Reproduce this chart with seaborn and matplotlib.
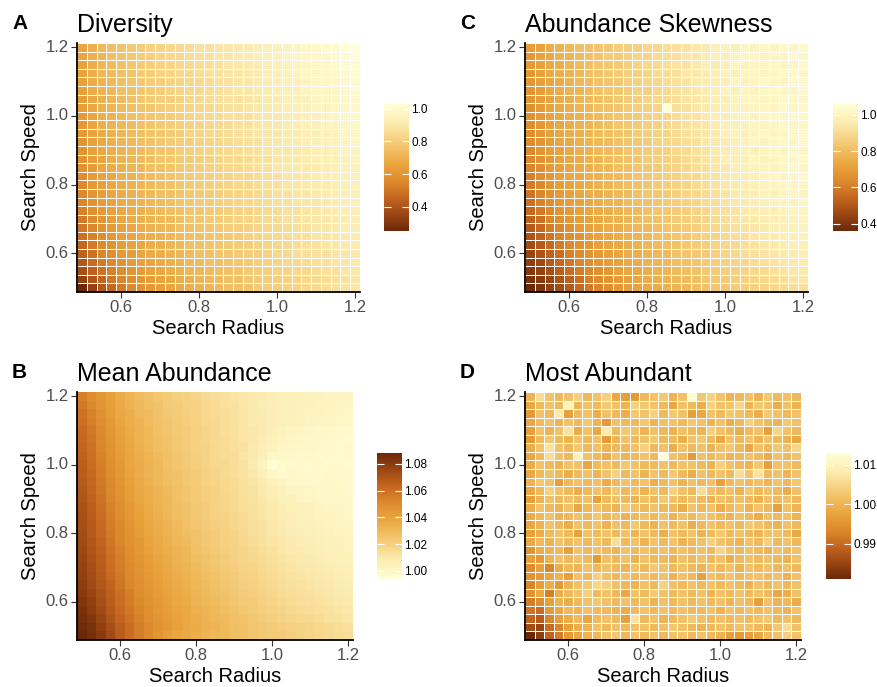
import numpy as np
import pandas as pd
import matplotlib
matplotlib.use("Agg")
import matplotlib.pyplot as plt
import seaborn as sns
from matplotlib.colors import LinearSegmentedColormap

# grid values (search radius on x, search speed on y, top row = 1.2)
radius = [0.5, 0.525, 0.55, 0.575, 0.6, 0.625, 0.65, 0.675, 0.7, 0.725, 0.75, 0.775, 0.8, 0.825, 0.85,
          0.875, 0.9, 0.925, 0.95, 0.975, 1.0, 1.025, 1.05, 1.075, 1.1, 1.125, 1.15, 1.175, 1.2]
speed = [1.2, 1.175, 1.15, 1.125, 1.1, 1.075, 1.05, 1.025, 1.0, 0.975, 0.95, 0.925, 0.9, 0.875, 0.85,
         0.825, 0.8, 0.775, 0.75, 0.725, 0.7, 0.675, 0.65, 0.625, 0.6, 0.575, 0.55, 0.525, 0.5]

# Diversity, in hundredths
diversity_rows = [
    "66 70 73 75 77 79 80 82 83 84 85 86 87 88 89 90 91 92 93 94 95 96 97 98 99 100 101 102 103",
    "66 70 72 75 77 78 80 81 83 84 85 86 87 88 89 90 91 92 93 94 95 96 97 98 98 99 100 101 102",
    "65 69 72 74 76 78 79 81 82 83 84 85 86 87 88 89 90 91 92 93 94 95 96 97 98 99 100 101 101",
    "65 69 72 74 76 77 79 80 82 83 84 85 86 87 88 89 90 91 92 93 94 95 96 97 97 98 99 100 101",
    "64 68 71 73 75 77 78 80 81 82 83 84 85 86 87 88 89 90 91 92 93 94 95 96 97 98 99 100 100",
    "64 68 71 73 75 76 78 79 81 82 83 84 85 86 87 88 89 90 91 92 93 94 95 96 97 97 98 99 100",
    "63 67 70 72 74 76 77 79 80 81 82 84 85 86 87 88 88 89 90 91 92 93 94 95 96 97 98 99 99",
    "63 67 70 72 74 75 77 78 80 81 82 83 84 85 86 87 88 89 90 91 92 93 94 95 96 96 97 98 99",
    "62 66 69 71 73 75 76 78 79 80 81 83 84 85 86 87 87 88 89 90 91 92 93 94 95 96 97 98 98",
    "61 66 69 71 73 74 76 77 79 80 81 82 83 84 85 86 87 88 89 90 91 92 93 94 95 96 96 97 98",
    "61 65 68 70 72 74 75 77 78 79 80 82 83 84 85 86 87 88 89 89 90 91 92 93 94 95 96 97 97",
    "60 64 67 70 72 73 75 76 78 79 80 81 82 83 84 85 86 87 88 89 90 91 92 93 94 95 95 96 97",
    "59 64 67 69 71 73 74 76 77 78 80 81 82 83 84 85 86 87 88 89 90 90 91 92 93 94 95 96 96",
    "59 63 66 69 71 72 74 75 77 78 79 80 81 82 83 84 85 86 87 88 89 90 91 92 93 94 94 95 96",
    "58 62 66 68 70 72 73 75 76 77 79 80 81 82 83 84 85 86 87 88 89 90 91 91 92 93 94 95 95",
    "57 62 65 67 70 71 73 74 76 77 78 79 80 81 82 83 84 85 86 87 88 89 90 91 92 93 93 94 95",
    "56 61 64 67 69 71 72 74 75 76 78 79 80 81 82 83 84 85 86 87 88 89 90 91 91 92 93 94 95",
    "55 60 63 66 68 70 72 73 75 76 77 78 79 80 81 82 83 84 85 86 87 88 89 90 91 92 93 93 94",
    "54 59 62 65 68 69 71 73 74 75 77 78 79 80 81 82 83 84 85 86 87 88 89 90 90 91 92 93 94",
    "53 58 61 64 67 69 70 72 74 75 76 77 78 79 80 81 82 83 84 85 86 87 88 89 90 91 92 93 93",
    "51 56 60 63 66 68 70 71 73 74 75 77 78 79 80 81 82 83 84 85 86 87 88 89 90 90 91 92 93",
    "50 55 59 62 65 67 69 71 72 73 75 76 77 78 79 80 81 82 83 84 85 86 87 88 89 90 91 92 92",
    "48 53 57 61 64 66 68 70 71 73 74 75 76 77 78 79 80 82 83 84 85 86 87 88 89 89 90 91 92",
    "46 51 56 59 62 65 67 69 70 72 73 75 76 77 78 79 80 81 82 83 84 85 86 87 88 89 90 91 92",
    "44 49 54 57 61 63 66 68 69 71 72 74 75 76 77 78 79 80 81 82 84 85 86 87 88 88 89 90 91",
    "41 47 51 55 59 62 64 66 68 70 71 73 74 75 76 77 78 79 81 82 83 84 85 86 87 88 89 90 91",
    "38 44 49 53 57 60 62 65 67 69 70 72 73 74 75 76 77 79 80 81 82 83 84 85 86 87 88 89 90",
    "33 40 45 50 54 57 60 63 65 67 69 70 72 73 74 75 76 78 79 80 81 82 83 84 85 86 87 88 89",
    "25 34 41 46 51 55 58 61 64 66 68 69 71 72 74 75 76 77 79 80 81 82 83 84 85 86 87 88 89",
]

# Abundance Skewness, in hundredths
skewness_rows = [
    "70 72 75 77 79 81 82 83 84 86 86 87 89 89 91 92 93 95 95 97 99 98 100 99 101 100 102 101 102",
    "69 72 74 77 78 80 82 83 85 85 87 88 88 90 91 92 94 94 96 98 97 99 100 101 99 101 101 103 101",
    "69 71 74 76 78 80 81 83 84 85 86 88 89 90 92 93 93 95 97 96 98 100 99 100 101 102 100 101 103",
    "68 71 74 76 77 79 81 82 84 85 86 87 88 90 91 92 94 94 96 98 99 98 100 101 100 101 102 102 101",
    "68 71 73 75 77 79 80 82 83 84 86 87 88 89 91 92 93 95 96 97 98 100 99 100 102 101 100 103 102",
    "67 70 73 75 77 78 80 82 83 84 85 87 87 89 90 92 93 94 96 97 99 98 100 99 101 102 101 101 103",
    "67 70 72 75 76 78 80 81 82 84 85 86 88 89 90 91 93 94 95 97 97 99 100 101 100 101 103 102 101",
    "66 69 72 74 76 78 79 81 82 83 85 86 87 88 106 91 92 94 95 96 98 99 99 100 101 100 102 101 102",
    "66 69 72 74 76 77 79 80 82 83 84 85 87 88 89 91 93 93 95 97 97 99 100 99 101 102 101 103 102",
    "65 68 71 73 75 77 78 80 81 83 84 85 86 87 89 90 92 93 94 96 98 98 99 101 100 101 102 101 101",
    "65 68 71 73 75 76 78 80 81 82 83 85 86 87 88 90 91 93 94 95 97 99 98 100 101 100 101 102 103",
    "64 67 70 73 74 76 78 79 80 82 83 84 85 87 88 89 91 92 94 95 96 97 99 100 99 101 102 101 102",
    "63 67 70 72 74 76 77 79 80 81 83 84 85 86 87 89 90 92 93 95 96 98 99 98 100 101 100 102 101",
    "63 66 69 72 74 75 77 78 80 81 82 83 85 86 87 88 90 91 93 94 97 97 98 100 99 100 102 101 102",
    "62 65 69 71 73 75 76 78 79 81 82 83 84 85 87 88 89 91 92 94 95 97 98 99 100 99 101 102 101",
    "61 65 68 71 73 74 76 77 79 80 81 83 84 85 86 87 89 90 92 93 95 96 97 98 100 101 100 101 102",
    "60 63 67 70 72 74 75 77 78 80 81 82 83 85 86 87 88 90 91 93 94 95 97 98 99 100 101 100 101",
    "58 62 66 69 71 73 75 76 78 79 80 82 83 84 85 86 88 89 90 92 93 95 96 97 99 98 100 101 100",
    "57 61 65 68 70 72 74 76 77 78 80 81 82 83 85 86 87 88 90 91 93 94 95 97 98 99 100 99 101",
    "55 59 63 67 69 71 73 75 76 78 79 80 82 83 84 85 86 88 89 91 92 93 95 96 97 98 99 100 100",
    "53 57 62 65 68 70 72 74 76 77 78 80 81 82 83 85 86 87 88 90 91 93 94 95 96 97 98 99 100",
    "51 55 60 63 66 69 71 73 75 76 78 79 80 81 83 84 85 86 88 89 90 92 93 94 95 97 98 98 99",
    "49 53 58 62 65 67 70 72 74 75 77 78 79 81 82 83 84 86 87 88 90 91 92 94 95 96 97 98 99",
    "47 51 55 60 63 66 68 71 73 74 76 77 79 80 81 82 84 85 86 88 89 90 92 93 94 95 96 97 98",
    "45 49 53 57 61 64 67 69 71 73 75 76 78 79 80 82 83 84 85 87 88 89 91 92 93 94 95 96 97",
    "43 46 51 55 59 62 65 68 70 72 74 75 77 78 79 81 82 83 85 86 87 88 89 91 92 93 94 95 96",
    "41 44 48 52 56 60 63 66 68 71 73 74 76 77 78 80 81 82 84 85 86 87 88 89 90 92 93 94 95",
    "39 42 45 49 53 57 61 64 67 69 71 73 75 76 77 79 80 81 83 84 85 86 87 88 89 90 91 93 94",
    "36 40 44 47 51 55 59 62 65 68 70 72 74 75 77 78 79 81 82 83 84 85 86 87 88 89 90 91 92",
]

# Mean Abundance, thousandths above 1
mean_abund_rows = [
    "55 50 45 41 36 32 29 27 25 23 21 20 18 16 14 13 11 10 9 8 6 5 5 4 3 3 2 2 2",
    "57 52 46 42 37 33 30 28 26 23 22 20 19 17 15 13 12 10 9 7 6 5 4 3 3 2 2 1 1",
    "59 54 48 43 38 35 31 29 26 24 22 21 19 17 15 14 12 11 9 8 6 5 4 3 2 2 1 1 0",
    "60 55 49 44 39 35 32 29 27 25 23 21 19 17 16 14 12 11 9 8 6 5 4 3 2 1 1 0 0",
    "62 57 51 45 40 36 33 30 27 25 23 22 20 18 16 14 13 11 10 8 5 3 2 1 0 -1 -1 -2 -2",
    "63 58 52 46 41 37 33 30 28 26 24 22 20 18 16 15 13 11 10 7 4 2 1 0 -1 -1 -2 -2 -3",
    "64 59 53 47 42 38 34 31 28 26 24 22 20 19 17 15 13 12 9 6 3 1 0 -1 -1 -2 -2 -3 -2",
    "65 60 54 48 43 39 35 32 29 27 25 23 21 19 17 15 14 11 9 5 0 -1 -1 -2 -2 -3 -2 -3 -2",
    "66 61 55 49 44 39 36 33 30 27 25 23 21 19 17 16 14 12 8 3 -6 -3 -2 -2 -3 -2 -3 -2 -3",
    "67 62 56 50 45 40 36 33 30 28 26 24 22 20 18 16 14 12 10 5 0 -3 -1 -2 -2 -3 -2 -2 -2",
    "68 63 57 51 46 41 37 34 31 28 26 24 22 20 18 17 15 13 11 8 4 2 0 -1 -2 -2 -1 -2 -2",
    "69 64 58 52 47 42 38 35 32 29 27 25 23 21 19 17 15 13 12 9 6 4 2 1 0 -1 -1 -1 -2",
    "70 65 59 53 48 43 39 35 32 30 27 25 23 21 19 18 16 14 12 10 7 5 4 2 1 0 0 -1 -1",
    "71 66 60 54 49 44 40 36 33 30 28 26 24 22 20 18 16 14 13 11 9 7 5 4 3 2 1 1 0",
    "72 67 61 55 50 45 41 37 34 31 28 26 24 22 20 19 17 15 13 11 9 7 6 4 3 2 2 1 0",
    "72 68 62 56 51 46 42 38 35 32 29 27 25 23 21 19 17 15 14 12 10 8 6 5 4 3 2 1 1",
    "73 68 63 57 52 47 43 39 36 33 30 28 26 24 22 20 18 16 14 12 10 9 7 6 5 4 3 2 1",
    "74 69 64 58 53 48 44 40 37 34 31 29 26 24 22 20 19 17 15 13 11 10 8 7 6 5 4 3 2",
    "75 70 65 59 54 49 45 41 38 35 32 30 27 25 23 21 19 18 16 14 12 10 9 8 7 6 5 4 3",
    "76 71 66 60 55 50 46 42 39 36 33 31 28 26 24 22 20 18 17 15 13 11 10 9 8 7 6 5 4",
    "77 72 67 61 56 51 47 43 40 37 34 32 29 27 25 23 21 19 18 16 14 12 11 10 9 8 7 6 5",
    "78 73 68 62 57 52 48 44 41 38 35 33 30 28 26 24 22 20 19 17 15 13 12 11 10 9 8 7 6",
    "79 74 69 64 58 53 49 45 42 39 36 34 31 29 27 25 23 21 20 18 16 14 13 12 11 10 9 8 7",
    "80 76 71 65 60 55 50 46 43 40 37 35 32 30 28 26 24 22 21 19 17 15 14 13 12 11 10 9 8",
    "82 78 72 66 61 56 51 47 44 41 38 36 33 31 29 27 25 23 22 20 18 17 15 14 13 12 11 10 9",
    "84 79 74 68 62 57 53 49 45 42 39 37 34 32 30 28 26 24 23 21 19 18 16 15 14 13 12 11 10",
    "85 82 76 70 64 59 54 50 46 43 40 38 35 33 31 29 27 26 24 22 21 19 18 17 16 15 13 12 11",
    "87 84 78 72 66 61 56 51 47 44 41 38 36 34 32 30 28 27 25 24 22 21 20 19 18 17 15 14 13",
    "88 85 80 74 67 61 56 51 46 42 39 37 35 33 31 30 28 27 25 24 23 22 21 19 18 17 16 15 14",
]

# Most Abundant, thousandths above 0.98
most_abund_rows = [
    "20 26 22 21 22 24 21 22 24 18 17 16 21 22 23 20 22 32 23 24 22 20 21 22 20 23 21 22 21",
    "18 21 22 21 30 20 22 21 23 22 20 24 23 22 21 18 22 21 19 24 22 22 25 20 23 22 19 22 20",
    "16 22 21 28 17 21 22 19 22 21 19 23 22 24 21 23 22 17 18 22 21 23 22 21 19 23 22 21 22",
    "18 21 22 20 22 21 23 20 16 22 21 21 23 20 22 22 21 23 22 20 22 19 21 24 22 21 20 23 22",
    "17 22 20 22 27 19 22 18 28 21 23 22 20 22 21 20 22 21 20 24 22 21 19 21 22 17 25 22 21",
    "16 21 23 21 20 22 21 22 16 20 22 21 22 23 21 21 19 22 23 21 18 22 21 22 20 22 21 20 18",
    "19 22 27 22 21 23 21 22 20 21 21 22 24 21 22 19 22 21 22 20 22 23 21 18 22 21 23 22 25",
    "18 21 26 22 21 30 22 21 19 22 20 21 22 21 33 22 21 16 22 21 22 20 21 22 21 19 22 21 22",
    "19 22 21 20 22 22 18 21 22 21 23 22 21 21 22 21 22 22 21 20 24 22 21 20 23 17 22 22 21",
    "18 21 22 21 19 21 22 20 22 24 21 22 20 22 21 23 21 19 22 21 22 21 26 22 27 21 22 20 22",
    "20 23 22 17 21 22 21 22 19 21 22 21 22 19 21 22 20 22 21 22 17 21 22 21 22 20 22 21 23",
    "18 21 24 22 21 19 21 22 21 23 21 22 20 22 21 24 22 21 26 22 21 22 20 23 21 22 21 19 22",
    "17 20 22 21 22 21 22 17 21 22 21 20 22 21 23 22 21 22 21 20 22 21 22 21 20 22 21 22 21",
    "19 22 21 20 22 18 21 22 21 20 23 22 21 22 21 21 19 22 21 22 19 21 22 20 22 21 17 22 20",
    "19 21 22 20 21 22 21 23 21 22 20 21 22 21 22 20 22 21 23 22 21 20 22 21 19 22 21 22 20",
    "18 20 22 21 19 22 21 22 20 22 21 23 21 20 22 21 22 19 21 22 21 22 21 23 22 21 20 22 21",
    "17 19 21 22 21 17 22 21 22 21 22 20 22 21 19 22 21 22 20 21 23 21 22 21 20 22 22 21 18",
    "18 21 20 22 21 22 21 22 21 26 21 22 20 22 21 22 20 21 22 24 22 21 20 22 21 24 21 22 21",
    "15 19 20 21 17 22 21 22 21 20 22 21 22 21 22 21 22 21 22 21 25 22 21 22 21 20 22 21 22",
    "17 16 20 22 21 22 21 16 22 21 22 20 22 21 21 20 22 21 22 21 22 19 21 22 21 22 21 20 22",
    "14 17 13 19 21 20 22 21 22 21 20 22 21 23 22 21 22 21 20 22 21 22 20 22 21 22 21 22 21",
    "15 16 18 20 17 22 21 24 22 21 22 21 22 21 22 20 22 21 17 22 21 22 21 22 22 21 22 20 22",
    "13 17 19 16 20 22 23 25 24 22 21 20 22 21 24 22 21 22 21 22 21 22 21 20 22 21 22 21 22",
    "15 18 12 19 21 22 24 21 22 21 18 22 21 23 22 21 22 21 22 20 22 21 22 21 22 21 18 19 22",
    "12 14 17 20 19 21 22 23 22 21 22 21 22 20 22 21 22 21 22 21 22 20 22 21 17 22 20 21 19",
    "11 10 16 18 21 20 22 21 21 20 19 21 22 21 22 21 22 21 21 22 20 22 21 22 21 22 21 20 22",
    "9 8 13 17 19 21 18 21 22 21 17 27 21 22 20 21 22 23 22 21 22 21 22 21 22 23 21 22 21",
    "6 5 10 13 17 19 20 22 21 22 21 22 22 21 22 23 22 21 20 21 22 21 22 22 21 20 23 26 22",
    "1 4 9 12 16 18 20 21 22 23 21 22 21 22 21 22 22 21 22 21 20 17 16 17 18 21 22 24 22",
]


def to_grid(rows):
    return np.array([r.split() for r in rows], dtype=float)


diversity = to_grid(diversity_rows) / 100
skewness = to_grid(skewness_rows) / 100
mean_abund = 1 + to_grid(mean_abund_rows) / 1000
most_abund = 0.98 + to_grid(most_abund_rows) / 1000

# yellow-orange-brown ramp, light to dark, matched to the printed figure
ramp = [(0.0, "#FFFED6"), (0.15, "#FBEBB0"), (0.28, "#F5D07F"), (0.40, "#EEB555"),
        (0.50, "#E8A03A"), (0.62, "#DB882C"), (0.73, "#C66820"), (0.86, "#9E4814"),
        (1.0, "#6B2808")]
cmap = LinearSegmentedColormap.from_list("ylorbr", ramp)
cmap_r = cmap.reversed()

plt.rcParams["font.family"] = ["Liberation Sans", "DejaVu Sans"]

W, H = 877, 687
fig = plt.figure(figsize=(W / 100, H / 100), dpi=100)


def box(x0, y0, x1, y1):
    return [x0 / W, 1 - y1 / H, (x1 - x0) / W, (y1 - y0) / H]


def panel(vals, ax_px, cb_px, letter, title, cticks, clabels, cm, grid):
    x0, y0, x1, y1 = ax_px
    ax = fig.add_axes(box(*ax_px))
    cax = fig.add_axes(box(*cb_px))
    df = pd.DataFrame(vals, index=speed, columns=radius)
    sns.heatmap(df, ax=ax, cbar_ax=cax, cmap=cm, vmin=vals.min(), vmax=vals.max(),
                linewidths=0.4 if grid else 0, linecolor="white",
                cbar_kws={"ticks": cticks})
    ax.set_xticks([radius.index(v) + 0.5 for v in [0.6, 0.8, 1.0, 1.2]])
    ax.set_xticklabels(["0.6", "0.8", "1.0", "1.2"], rotation=0)
    ax.set_yticks([speed.index(v) + 0.5 for v in [1.2, 1.0, 0.8, 0.6]])
    ax.set_yticklabels(["1.2", "1.0", "0.8", "0.6"], rotation=0)
    ax.set_xlabel("")
    ax.set_ylabel("")
    ax.tick_params(length=4, width=0.8, color="#333333", labelsize=12,
                   labelcolor="#4D4D4D", pad=2)
    for s in ["left", "bottom"]:
        ax.spines[s].set_visible(True)
        ax.spines[s].set_color("black")
        ax.spines[s].set_linewidth(1.3)

    cbar = ax.collections[0].colorbar
    cbar.outline.set_visible(False)
    cbar.set_ticklabels(clabels)
    cbar.ax.tick_params(direction="in", length=5, width=0.8, color="white",
                        left=True, right=True, labelleft=False, labelright=True,
                        labelsize=8.5, pad=1.5)

    fig.text((x0 - 65) / W, 1 - (y0 - 14) / H, letter, fontsize=15, fontweight="bold", va="baseline")
    fig.text(x0 / W, 1 - (y0 - 11) / H, title, fontsize=18, va="baseline")
    fig.text((x0 + x1) / 2 / W, 1 - (y1 + 42) / H, "Search Radius", fontsize=14.5,
             ha="center", va="baseline")
    fig.text((x0 - 47) / W, 1 - (y0 + y1) / 2 / H, "Search Speed", fontsize=14.5,
             rotation=90, ha="center", va="center")


panel(diversity, (77, 43, 360, 292), (384, 104, 409, 231), "A", "Diversity",
      [0.4, 0.6, 0.8, 1.0], ["0.4", "0.6", "0.8", "1.0"], cmap_r, True)
panel(skewness, (525, 43, 808, 292), (833, 104, 858, 231), "C", "Abundance Skewness",
      [0.4, 0.6, 0.8, 1.0], ["0.4", "0.6", "0.8", "1.0"], cmap_r, True)
panel(mean_abund, (77, 392, 353, 640), (377, 453, 402, 579), "B", "Mean Abundance",
      [1.0, 1.02, 1.04, 1.06, 1.08], ["1.00", "1.02", "1.04", "1.06", "1.08"], cmap, False)
panel(most_abund, (525, 392, 801, 640), (826, 453, 851, 579), "D", "Most Abundant",
      [0.99, 1.0, 1.01], ["0.99", "1.00", "1.01"], cmap_r, True)

fig.savefig("out.png", dpi=100, facecolor="white")
